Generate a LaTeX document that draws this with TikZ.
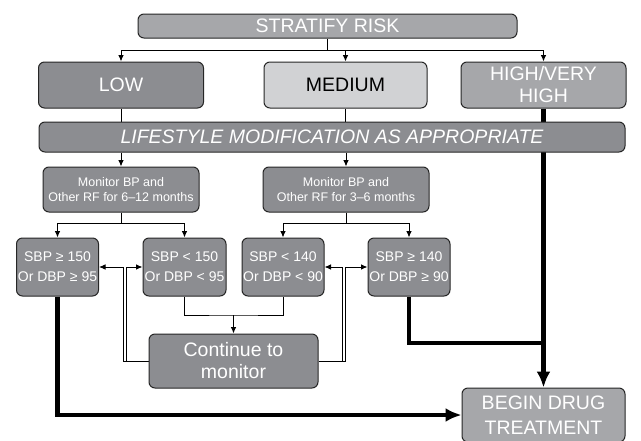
\documentclass[tikz,border=0pt]{standalone}
\usepackage{fontspec}
\setmainfont{Liberation Sans}
\usetikzlibrary{backgrounds,arrows.meta}
\definecolor{boxdark}{HTML}{8C8D91}
\definecolor{boxlight}{HTML}{A6A7AA}
\definecolor{boxpale}{HTML}{D1D2D4}
\tikzset{>={Latex[length=6.5pt,width=5.5pt]}}
\tikzset{
  box/.style = {draw=black!85, line width=1pt, rounded corners=6pt,
    fill=boxdark, text=white, align=center, inner sep=0pt},
  bigbox/.style = {box, font=\fontsize{19.5}{22}\selectfont},
  monbox/.style = {box, font=\fontsize{12.5}{15}\selectfont, minimum height=45pt},
  sbpbox/.style = {box, font=\fontsize{14}{20}\selectfont, minimum width=82pt, minimum height=58pt},
  thin/.style = {line width=0.9pt},
  heavy/.style = {line width=4.5pt},
  heavyarrow/.style = {heavy, -{Latex[length=16pt,width=14pt]}}
}

\begin{document}
\begin{tikzpicture}[x=1pt,y=-1pt]
  \useasboundingbox (0,0) rectangle (641,440);
  \clip (0,0) rectangle (641,440);
  \node[bigbox,fill=boxlight,minimum width=379pt,minimum height=24pt] (risk) at (327.5,26) {STRATIFY RISK};
  \node[bigbox,minimum width=165pt,minimum height=46pt] (low) at (121,85) {LOW};
  \node[bigbox,fill=boxpale,text=black,minimum width=163pt,minimum height=46pt] (med) at (345.5,85) {MEDIUM};
  \node[bigbox,fill=boxlight,minimum width=165pt,minimum height=46pt] (high) at (543.5,85) {HIGH/VERY\\HIGH};
  \node[bigbox,font=\fontsize{19.5}{22}\selectfont\itshape,minimum width=586pt,minimum height=30pt] (life) at (332,137) {LIFESTYLE MODIFICATION AS APPROPRIATE};
  \node[monbox,minimum width=156pt] (monL) at (121,189.5) {Monitor BP and\\Other RF for 6--12 months};
  \node[monbox,minimum width=166pt] (monR) at (346,189.5) {Monitor BP and\\Other RF for 3--6 months};
  \node[sbpbox] (sbpA) at (57.5,267) {SBP ≥ 150\\Or DBP ≥ 95};
  \node[sbpbox,minimum width=83pt] (sbpB) at (184.5,267) {SBP < 150\\Or DBP < 95};
  \node[sbpbox] (sbpC) at (283,267) {SBP < 140\\Or DBP < 90};
  \node[sbpbox] (sbpD) at (409,267) {SBP ≥ 140\\Or DBP ≥ 90};
  \node[bigbox,minimum width=169pt,minimum height=54pt] (cont) at (233.5,361) {Continue to\\monitor};
  \node[bigbox,fill=boxlight,font=\fontsize{19.5}{25}\selectfont,minimum width=163pt,minimum height=54pt] (begin) at (543.5,415) {BEGIN DRUG\\TREATMENT};
  \begin{scope}[on background layer]
    \coordinate (fork) at (327.5,50);
    \draw[thin] (risk.south) -- (fork);
    \foreach \N in {low,med,high} {
      \draw[thin,->] (fork) -| (\N.north);
    }
    \foreach \N/\M in {low/monL,med/monR} {
      \draw[thin] (\N.south) -- (\N.south |- life.north);
      \draw[thin,->] (\M.north |- life.south) -- (\M.north);
    }
    \foreach \M/\A/\B in {monL/sbpA/sbpB,monR/sbpC/sbpD} {
      \draw[thin,->] (\M.south) -- ++(0,11) -| (\A.north);
      \draw[thin,->] (\M.south) -- ++(0,11) -| (\B.north);
    }
    \coordinate (merge) at (cont.north |- 0,315);
    \draw[thin] (sbpB.south) |- (merge) -| (sbpC.south);
    \draw[thin,->] (merge) -- (cont.north);
    \draw[thin,->] (cont.west) -- ++(-25,0) |- (sbpA.east);
    \draw[thin,->] (cont.west) -- ++(-22,0) |- (sbpB.west);
    \draw[thin,->] (cont.east) -- ++(24,0) |- (sbpC.east);
    \draw[thin,->] (cont.east) -- ++(27,0) |- (sbpD.west);
    \coordinate (join) at (high.south |- 0,343);
    \draw[heavyarrow] (high.south) -- (high.south |- begin.north);
    \draw[heavy] (sbpD.south) |- (join);
    \draw[heavyarrow] (sbpA.south) |- (begin.west);
  \end{scope}
\end{tikzpicture}
\end{document}
